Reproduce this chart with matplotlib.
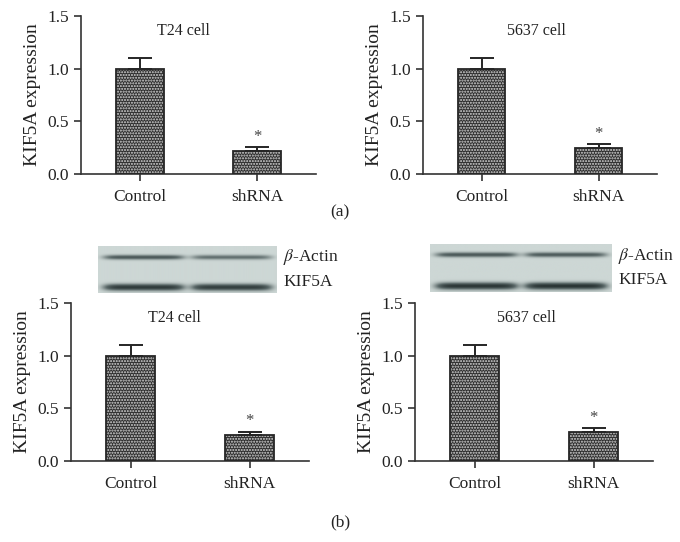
import numpy as np
import matplotlib
matplotlib.use("Agg")
import matplotlib.pyplot as plt
from matplotlib.colors import LinearSegmentedColormap

plt.rcParams['font.family'] = ['Liberation Serif', 'DejaVu Serif']
plt.rcParams['mathtext.fontset'] = 'stix'

categories = ["Control", "shRNA"]
panel_titles = ["T24 cell", "5637 cell", "T24 cell", "5637 cell"]
means_a_t24 = [1.00, 0.22]
errs_a_t24 = [0.10, 0.04]
means_a_5637 = [1.00, 0.25]
errs_a_5637 = [0.10, 0.035]
means_b_t24 = [1.00, 0.25]
errs_b_t24 = [0.10, 0.03]
means_b_5637 = [1.00, 0.28]
errs_b_5637 = [0.10, 0.03]
yticks = [0.0, 0.5, 1.0, 1.5]
ylabel = "KIF5A expression"
blot_labels = [r"$\beta$-Actin", "KIF5A"]
# band intensities per lane: (beta-actin, KIF5A)
blot1_top = [0.62, 0.48]
blot1_bottom = [0.85, 0.82]
blot2_top = [0.62, 0.6]
blot2_bottom = [0.88, 0.9]

W, H = 680, 542
fig = plt.figure(figsize=(W/100, H/100), dpi=100)

def rect(l, t, r, b):
    return [l/W, 1-b/H, (r-l)/W, (b-t)/H]

def draw_panel(box, means, errs, title, title_x):
    ax = fig.add_axes(rect(*box))
    x = np.arange(len(categories))
    ax.bar(x, means, width=0.41, color='#2e2e2e', edgecolor='#d8d8d8',
           hatch='......', linewidth=0, zorder=2)
    ax.bar(x, means, width=0.41, fill=False, edgecolor='#262626',
           linewidth=1.3, zorder=3)
    ax.errorbar(x, means, yerr=[np.zeros(len(errs)), errs], fmt='none',
                ecolor='#262626', elinewidth=1.4, capsize=8.5, capthick=1.4,
                zorder=4)
    ax.text(1, means[1] + errs[1] + 0.02, "*", ha='center', va='bottom',
            fontsize=12, color='#444444')
    ax.set_xlim(-0.5, 1.5)
    ax.set_ylim(0, 1.5)
    ax.set_yticks(yticks)
    ax.set_yticklabels([f"{v:.1f}" for v in yticks])
    ax.set_xticks(x)
    ax.set_xticklabels(categories)
    for s in ['top', 'right']:
        ax.spines[s].set_visible(False)
    for s in ['left', 'bottom']:
        ax.spines[s].set_color('#333333')
        ax.spines[s].set_linewidth(1.2)
    ax.tick_params(axis='both', colors='#333333', labelcolor='#222222',
                   labelsize=12.5, length=5, width=1.2)
    ax.tick_params(axis='x', pad=6)
    ax.set_ylabel(ylabel, fontsize=14, color='#222222', labelpad=5)
    ax.text(title_x, 1.36, title, ha='center', va='center', fontsize=11.5,
            color='#222222')
    return ax

draw_panel((81, 16, 316, 174), means_a_t24, errs_a_t24, panel_titles[0], 0.37)
draw_panel((423, 16, 657, 174), means_a_5637, errs_a_5637, panel_titles[1], 0.47)
draw_panel((71, 303, 309, 461), means_b_t24, errs_b_t24, panel_titles[2], 0.37)
draw_panel((415, 303, 653, 461), means_b_5637, errs_b_5637, panel_titles[3], 0.44)

fig.text(340/W, 1-212/H, "(a)", ha='center', va='center', fontsize=12.5, color='#222222')
fig.text(340/W, 1-522/H, "(b)", ha='center', va='center', fontsize=12.5, color='#222222')

gel_cmap = LinearSegmentedColormap.from_list(
    'gel', ['#1c2626', '#5a6868', '#cdd7d5'])

def blot(box, label_x, top_int, bottom_int):
    ax = fig.add_axes(rect(*box))
    h, w = 94, 360
    yy, xx = np.mgrid[0:h, 0:w]
    img = np.ones((h, w))
    for lane, (ti, bi) in enumerate(zip(top_int, bottom_int)):
        cx = (0.255 + 0.49 * lane) * w
        lane_prof = np.exp(-np.abs((xx - cx) / (w * 0.225)) ** 8)
        img -= ti * lane_prof * np.exp(-((yy - 22) / 4.5) ** 2)
        img -= bi * lane_prof * np.exp(-((yy - 82) / 6.5) ** 2)
    img = np.clip(img, 0, 1)
    ax.imshow(img, cmap=gel_cmap, vmin=0, vmax=1, aspect='auto',
              interpolation='bilinear')
    ax.set_axis_off()
    t, b = box[1], box[3]
    fig.text(label_x/W, 1-(t + (b-t)*0.24)/H, blot_labels[0], fontsize=12.5,
             va='center', ha='left', color='#222222')
    fig.text(label_x/W, 1-(t + (b-t)*0.76)/H, blot_labels[1], fontsize=12.5,
             va='center', ha='left', color='#222222')

blot((98, 246, 277, 293), 283, blot1_top, blot1_bottom)
blot((430, 244, 612, 292), 618, blot2_top, blot2_bottom)

fig.savefig("out.png", dpi=100, facecolor='white')
